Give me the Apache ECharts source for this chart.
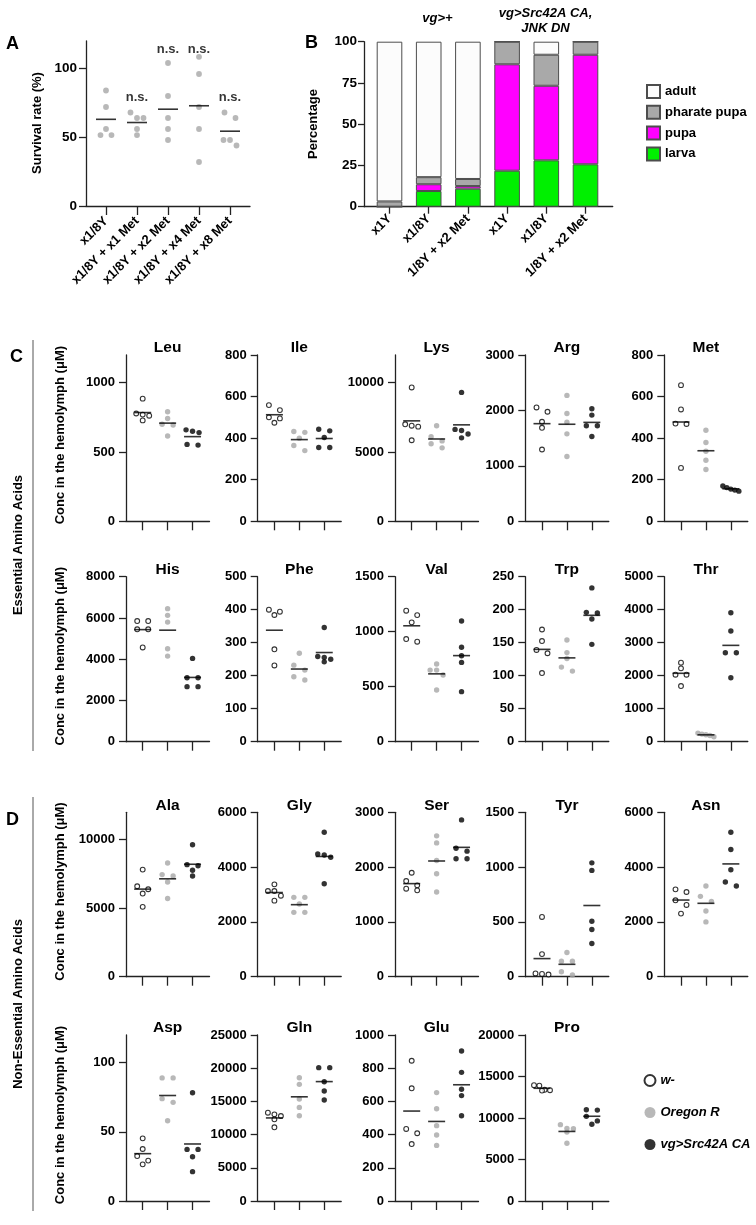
<!DOCTYPE html>
<html><head><meta charset="utf-8">
<script src="https://cdn.jsdelivr.net/npm/echarts@6/dist/echarts.min.js"></script>
<style>html,body{margin:0;padding:0;background:#fff}#c{width:756px;height:1225px}</style>
</head><body><div id="c"></div>
<script>
// ---------- Panel A: survival ----------
const survivalCategories = ['x1/8Y', 'x1/8Y + x1 Met', 'x1/8Y + x2 Met', 'x1/8Y + x4 Met', 'x1/8Y + x8 Met'];
const survivalValues = [
  [84, 72, 56, 51.6, 51.6],
  [68, 64, 64, 56, 51.6],
  [104, 80, 64, 56, 48],
  [108.5, 96, 72, 56, 32],
  [68, 64, 48, 48, 44]
];
const survivalSignif = ['', 'n.s.', 'n.s.', 'n.s.', 'n.s.'];
const survivalTicks = [0, 50, 100];

// ---------- Panel B: developmental stage ----------
const stageCategories = ['x1Y', 'x1/8Y', '1/8Y + x2 Met', 'x1Y', 'x1/8Y', '1/8Y + x2 Met'];
const larva   = [0, 9.5, 10.9, 21.8, 28.1, 25.7];
const pupa    = [0, 4.1, 1.6, 64.5, 45.2, 66.4];
const pharate = [3.2, 4.3, 4.3, 13.7, 18.8, 7.9];
const adult   = [96.8, 82.1, 83.2, 0, 7.9, 0];
const stageTicks = [0, 25, 50, 75, 100];

// ---------- Panels C / D: amino acids (w-, Oregon R, vg>Src42A CA) ----------
const genotypes = ['w-', 'Oregon R', 'vg>Src42A CA'];
const aminoNames = ['Leu','Ile','Lys','Arg','Met','His','Phe','Val','Trp','Thr','Ala','Gly','Ser','Tyr','Asn','Asp','Gln','Glu','Pro'];
const aminoMax  = [1200, 800, 12000, 3000, 800, 8000, 500, 1500, 250, 5000, 12000, 6000, 3000, 1500, 6000, 120, 25000, 1000, 20000];
const aminoStep = [500, 200, 5000, 1000, 200, 2000, 100, 500, 50, 1000, 5000, 2000, 1000, 500, 2000, 50, 5000, 200, 5000];

const Leu = [[885, 778, 770, 762, 728], [790, 742, 700, 695, 615], [660, 650, 640, 555, 550]];
const Ile = [[559, 535, 500, 495, 474], [432, 428, 400, 365, 340], [443, 435, 403, 355, 355]];
const Lys = [[9660, 7000, 6900, 6830, 5850], [6900, 6100, 5800, 5600, 5300], [9300, 6630, 6550, 6300, 6020]];
const Arg = [[2054, 1976, 1795, 1687, 1295], [2271, 1946, 1789, 1578, 1169], [2030, 1916, 1723, 1723, 1530]];
const Met = [[655, 538, 470, 468, 257], [438, 379, 337, 294, 249], [170, 162, 155, 150, 145]];
const His = [[5850, 5850, 5450, 5450, 4570], [6450, 6125, 5800, 4510, 4150], [4040, 3100, 3100, 2670, 2670]];
const Phe = [[400, 394, 384, 280, 231], [268, 232, 217, 197, 187], [346, 258, 255, 250, 242]];
const Val = [[1191, 1151, 1085, 933, 909], [706, 651, 651, 606, 470], [1097, 858, 782, 721, 455]];
const Trp = [[170, 152.5, 139, 134, 104], [154, 135, 126, 113, 107], [233, 196, 195, 186, 147.5]];
const Thr = [[2394, 2222, 2030, 2030, 1687], [260, 230, 210, 190, 150], [3909, 3354, 2697, 2697, 1939]];
const Ala = [[7816, 6602, 6383, 6068, 5097], [8300, 7451, 7354, 6917, 5704], [9636, 8180, 8100, 7767, 7354]];
const Gly = [[3371, 3128, 3128, 2957, 2775], [2896, 2896, 2653, 2349, 2349], [5270, 4478, 4442, 4357, 3395]];
const Ser = [[1897, 1745, 1667, 1606, 1576], [2570, 2442, 2121, 1879, 1545], [2861, 2345, 2291, 2152, 2152]];
const Tyr = [[545, 206, 30, 25, 20], [221, 142, 142, 45, 15], [1039, 970, 506, 430, 303]];
const Asn = [[3188, 3091, 2788, 2618, 2303], [3309, 2933, 2750, 2400, 2000], [5273, 4642, 3903, 3455, 3309]];
const Asp = [[45.3, 37.6, 32.5, 29.2, 26.5], [89, 89, 74, 71.3, 58], [78.3, 37.3, 37.3, 32, 21.2]];
const Gln = [[13300, 13050, 12800, 12300, 11100], [18570, 17570, 15360, 14100, 12850], [20080, 20080, 17970, 16570, 15210]];
const Glu = [[845, 679, 434, 408, 343], [653, 556, 454, 398, 335], [904, 775, 673, 635, 514]];
const Pro = [[13950, 13900, 13400, 13350, 13300], [9200, 8750, 8700, 8300, 6950], [11000, 10950, 10200, 9650, 9250]];
const aminoData = [Leu, Ile, Lys, Arg, Met, His, Phe, Val, Trp, Thr, Ala, Gly, Ser, Tyr, Asn, Asp, Gln, Glu, Pro];

// ---------- layout ----------
const FONT = '"Liberation Sans", Arial, sans-serif';
const AXC = '#222';
const colLeft = [126, 257.7, 395, 525.3, 664.3];
const rowTop = [355, 576.7, 812.3, 1035];
const rowH = [166.3, 165, 164.4, 166];
const plotW = 83.5;

function mean(a) { return a.reduce((s, v) => s + v, 0) / a.length; }
// GraphPad-like column scatter: values close in pixel space are spread horizontally
function swarm(vals, gi, pxY, pxX, d) {
  const sorted = vals.slice().sort((a, b) => b - a);
  const rows = []; let cur = null;
  sorted.forEach(v => {
    if (cur && (cur.start - v) * pxY < d) cur.items.push(v);
    else { cur = { start: v, items: [v] }; rows.push(cur); }
  });
  const pts = [];
  rows.forEach(r => {
    const n = r.items.length;
    const w = n === 2 ? 11 : (n === 3 ? 6.5 : Math.min(6.5, 16 / (n - 1)));
    r.items.forEach((v, k) => pts.push([gi + (k - (n - 1) / 2) * w / pxX, v]));
  });
  return pts;
}
function ticksFor(max, step) { const t = []; for (let v = 0; v <= max + 1e-9; v += step) t.push(v); return t; }

const grids = [], xAxes = [], yAxes = [], series = [], graphics = [];
function lineStyle() { return { color: AXC, width: 1.3 }; }
function makeX(gi, min, max, tickVals, tickLen, label) {
  return {
    gridIndex: gi, type: 'value', min, max,
    axisLine: { show: true, onZero: false, lineStyle: lineStyle() },
    axisTick: { show: true, customValues: tickVals, length: tickLen, lineStyle: lineStyle() },
    axisLabel: label || { show: false },
    splitLine: { show: false }
  };
}
function makeY(gi, max, tickVals, tickLen, margin, fs) {
  return {
    gridIndex: gi, type: 'value', min: 0, max,
    axisLine: { show: true, onZero: false, lineStyle: lineStyle() },
    axisTick: { show: true, customValues: tickVals, length: tickLen, lineStyle: lineStyle() },
    axisLabel: { show: true, customValues: tickVals, margin, color: '#000', fontWeight: 'bold', fontSize: fs, fontFamily: FONT, formatter: v => String(v) },
    splitLine: { show: false }
  };
}
function txt(x, y, text, o) {
  o = o || {};
  return {
    type: 'text', x, y, rotation: o.rot || 0, silent: true,
    style: {
      text, fill: '#000', fontFamily: FONT, fontSize: o.fs || 13, fontWeight: o.fw || 'bold',
      fontStyle: o.it ? 'italic' : 'normal', align: o.align || 'center', verticalAlign: 'middle'
    }
  };
}

// ----- Panel A -----
{
  const gi = 0, left = 86, top = 41, w = 164, h = 165, xmin = -0.645, xmax = 4.645;
  grids.push({ left, top, width: w, height: h, containLabel: false, outerBoundsMode: 'none' });
  const idx = survivalCategories.map((_, i) => i);
  xAxes.push(makeX(gi, xmin, xmax, idx, 9, {
    show: true, customValues: idx, formatter: v => survivalCategories[Math.round(v)],
    rotate: 45, margin: 13, color: '#000', fontWeight: 'bold', fontSize: 13, fontFamily: FONT
  }));
  yAxes.push(makeY(gi, 120, survivalTicks, 7, 9, 13.5));
  const pxX = w / (xmax - xmin), pxY = h / 120;
  const pts = [];
  survivalValues.forEach((vals, g) => swarm(vals, g, pxY, pxX, 6).forEach(p => pts.push(p)));
  series.push({ type: 'scatter', name: 'survival', xAxisIndex: gi, yAxisIndex: gi, data: pts, symbolSize: 5.8, itemStyle: { color: '#a6a6a6' }, silent: true, z: 2 });
  series.push({ type: 'scatter', name: 'survival mean', xAxisIndex: gi, yAxisIndex: gi, data: survivalValues.map((v, g) => [g, mean(v)]), symbol: 'rect', symbolSize: [20, 1.6], itemStyle: { color: '#000' }, silent: true, z: 3 });
  series.push({
    type: 'scatter', name: 'signif', xAxisIndex: gi, yAxisIndex: gi, symbolSize: 0.1, itemStyle: { color: 'transparent' }, silent: true,
    data: survivalValues.map((v, g) => ({ value: [g, Math.min(Math.max(...v) + 11, 114)], label: { show: !!survivalSignif[g], formatter: survivalSignif[g] } })),
    label: { show: true, position: 'inside', color: '#000', fontWeight: 'bold', fontSize: 13, fontFamily: FONT }
  });
  graphics.push(txt(37, 123, 'Survival rate (%)', { rot: Math.PI / 2 }));
  graphics.push(txt(6, 44, 'A', { fs: 18, align: 'left' }));
}

// ----- Panel B (visible axes) -----
{
  const gi = 1, left = 364, top = 41.7, w = 248.7, h = 165, xmin = -0.65, xmax = 5.69;
  grids.push({ left, top, width: w, height: h, containLabel: false, outerBoundsMode: 'none' });
  const idx = stageCategories.map((_, i) => i);
  xAxes.push(makeX(gi, xmin, xmax, idx, 7, {
    show: true, customValues: idx, formatter: v => stageCategories[Math.round(v)],
    rotate: 45, margin: 10, color: '#000', fontWeight: 'bold', fontSize: 13, fontFamily: FONT
  }));
  yAxes.push(makeY(gi, 100, stageTicks, 6, 7, 13.5));
  graphics.push(txt(313, 124, 'Percentage', { rot: Math.PI / 2 }));
  graphics.push(txt(305, 43, 'B', { fs: 18, align: 'left' }));
  graphics.push(txt(437.5, 18.5, 'vg>+', { it: true }));
  graphics.push(txt(545.5, 13.5, 'vg>Src42A CA,', { it: true }));
  graphics.push(txt(545.5, 28.5, 'JNK DN', { it: true }));
}

// ----- Panels C and D -----
const dotStyles = [
  { color: '#fff', borderColor: '#000', borderWidth: 1.1 },
  { color: '#a6a6a6' },
  { color: '#000' }
];
const dotSizes = [4.8, 5.4, 5.4];
aminoNames.forEach((name, i) => {
  const r = Math.floor(i / 5), c = i % 5, gi = 2 + i;
  const left = colLeft[c], top = rowTop[r], h = rowH[r];
  const xmin = -0.67, xmax = 2.68;
  grids.push({ left, top, width: plotW, height: h, containLabel: false, outerBoundsMode: 'none' });
  xAxes.push(makeX(gi, xmin, xmax, [0, 1, 2], 9));
  yAxes.push(makeY(gi, aminoMax[i], ticksFor(aminoMax[i], aminoStep[i]), 7, 11, 13));
  const pxX = plotW / (xmax - xmin), pxY = h / aminoMax[i];
  aminoData[i].forEach((vals, g) => series.push({
    type: 'scatter', name: genotypes[g], xAxisIndex: gi, yAxisIndex: gi,
    data: swarm(vals, g, pxY, pxX, 5.2), symbolSize: dotSizes[g], itemStyle: dotStyles[g], silent: true, z: 2
  }));
  series.push({
    type: 'scatter', name: 'mean', xAxisIndex: gi, yAxisIndex: gi,
    data: aminoData[i].map((vals, g) => [g, mean(vals)]), symbol: 'rect', symbolSize: [17, 1.6],
    itemStyle: { color: '#000' }, silent: true, z: 3
  });
  graphics.push(txt(left + (1 - xmin) * pxX, top - 7, name, { fs: 15.5 }));
  if (c === 0) graphics.push(txt(60, top + h / 2 - 3, 'Conc in the hemolymph (μM)', { rot: Math.PI / 2 }));
});

// ----- Panel B bars: hidden category grid aligned with the visible axes -----
{
  const gi = grids.length, spacing = 39.2, first = 389.5;
  grids.push({ left: first - spacing / 2, top: 41.7, width: spacing * stageCategories.length, height: 165, containLabel: false, outerBoundsMode: 'none' });
  xAxes.push({ gridIndex: gi, type: 'category', data: stageCategories.map((_, i) => 'c' + i), show: false });
  yAxes.push({ gridIndex: gi, type: 'value', min: 0, max: 100, show: false, splitLine: { show: false } });
  const stages = [['larva', larva, '#00f000'], ['pupa', pupa, '#ff00ff'], ['pharate pupa', pharate, '#a9a9a9'], ['adult', adult, '#fcfcfc']];
  stages.forEach(([name, arr, col]) => series.push({
    type: 'bar', name, stack: 'stage', xAxisIndex: gi, yAxisIndex: gi, barWidth: 25.6,
    data: arr.slice(), itemStyle: { color: col, borderColor: '#4d4d4d', borderWidth: 1 }, silent: true
  }));
}

graphics.push({ type: 'line', silent: true, shape: { x1: 33, y1: 340, x2: 33, y2: 751 }, style: { stroke: '#555', lineWidth: 1 } });
graphics.push({ type: 'line', silent: true, shape: { x1: 33, y1: 797, x2: 33, y2: 1211 }, style: { stroke: '#555', lineWidth: 1 } });
graphics.push(txt(18, 545, 'Essential Amino Acids', { rot: Math.PI / 2 }));
graphics.push(txt(18, 1004, 'Non-Essential Amino Acids', { rot: Math.PI / 2 }));
graphics.push(txt(10, 357, 'C', { fs: 18, align: 'left' }));
graphics.push(txt(6, 820, 'D', { fs: 18, align: 'left' }));

const chart = echarts.init(document.getElementById('c'));
chart.setOption({
  animation: false,
  backgroundColor: '#fff',
  grid: grids, xAxis: xAxes, yAxis: yAxes, series,
  legend: [
    {
      data: ['adult', 'pharate pupa', 'pupa', 'larva'], orient: 'vertical', left: 646, top: 84, padding: 0,
      itemWidth: 13, itemHeight: 13, itemGap: 5.8, icon: 'rect', selectedMode: false,
      textStyle: { color: '#000', fontWeight: 'bold', fontSize: 13, fontFamily: FONT }
    },
    {
      data: genotypes, orient: 'vertical', left: 643.5, top: 1074, padding: 0,
      itemWidth: 11, itemHeight: 11, itemGap: 19, icon: 'circle', selectedMode: false,
      textStyle: { color: '#000', fontWeight: 'bold', fontStyle: 'italic', fontSize: 13, fontFamily: FONT }
    }
  ],
  graphic: graphics
});
</script></body></html>
